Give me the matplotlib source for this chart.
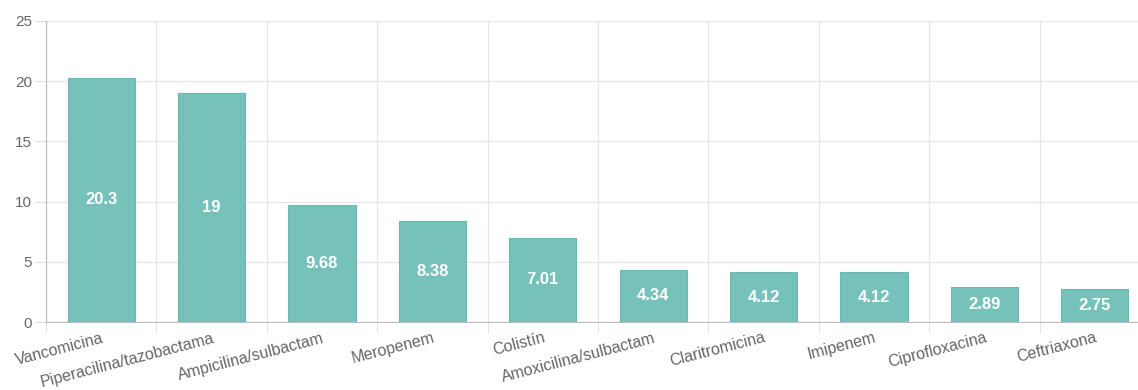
import matplotlib.pyplot as plt
import numpy as np

antibioticos = ['Vancomicina', 'Piperacilina/tazobactama', 'Ampicilina/sulbactam',
                'Meropenem', 'Colistín', 'Amoxicilina/sulbactam', 'Claritromicina',
                'Imipenem', 'Ciprofloxacina', 'Ceftriaxona']
valores = [20.3, 19, 9.68, 8.38, 7.01, 4.34, 4.12, 4.12, 2.89, 2.75]
y_ticks = [0, 5, 10, 15, 20, 25]

plt.rcParams['font.family'] = ['Liberation Sans', 'DejaVu Sans']

fig = plt.figure(figsize=(11.38, 3.9), dpi=100)
ax = fig.add_axes([46 / 1138, 1 - 322 / 390, 1092 / 1138, 301 / 390])

x = np.arange(len(valores))
ax.bar(x, valores, width=0.61, color='#77c1bb', edgecolor='#6cb8b1', linewidth=0.8, zorder=3)

for xi, v in zip(x, valores):
    ax.text(xi, v / 2, f'{v:g}', ha='center', va='center', color='white',
            fontsize=12, fontweight='bold', zorder=4)

# the source plot is cropped on the right, last category is cut short
ax.set_xlim(-0.5, -0.5 + 1092 / 110.4)
ax.set_ylim(0, 25)
ax.set_yticks(y_ticks)
ax.set_yticklabels([str(t) for t in y_ticks], fontsize=11, color='#666666')

# gridlines between categories
ax.set_xticks(np.arange(len(valores)) - 0.5, minor=True)
ax.set_xticks(x)
ax.set_xticklabels(antibioticos, rotation=14.5, ha='right', rotation_mode='anchor',
                   fontsize=11.5, color='#666666')
ax.tick_params(axis='x', which='major', length=0, pad=6)
ax.tick_params(axis='x', which='minor', length=8, color='#dddddd')
ax.tick_params(axis='y', length=8, color='#dddddd', pad=2)
ax.grid(axis='x', which='minor', color='#e6e6e6', linewidth=0.9, zorder=0)
ax.grid(axis='y', color='#e6e6e6', linewidth=0.9, zorder=0)

for s in ['top', 'right']:
    ax.spines[s].set_visible(False)
ax.spines['left'].set_color('#bbbbbb')
ax.spines['bottom'].set_color('#bbbbbb')

fig.savefig('out.png', dpi=100)
